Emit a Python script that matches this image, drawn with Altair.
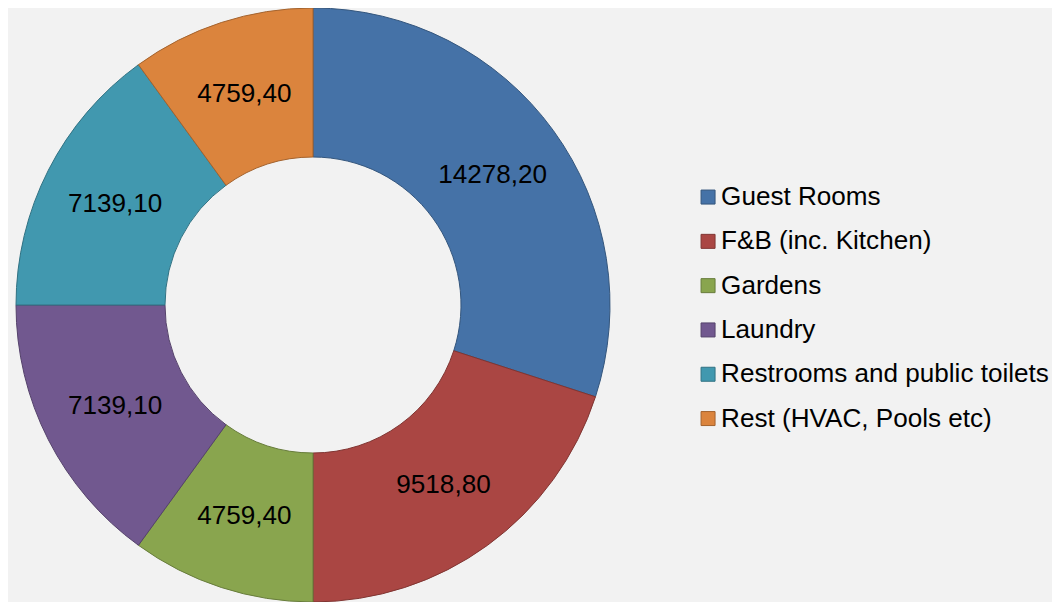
import altair as alt
import pandas as pd

categories = ["Guest Rooms", "F&B (inc. Kitchen)", "Gardens", "Laundry",
              "Restrooms and public toilets", "Rest (HVAC, Pools etc)"]
values = [14278.20, 9518.80, 4759.40, 7139.10, 7139.10, 4759.40]
fills = ["#4572A7", "#AA4643", "#89A54E", "#71588F", "#4198AF", "#DB843D"]
strokes = ["#34567D", "#803532", "#677C3B", "#55426B", "#317283", "#A4632E"]

df = pd.DataFrame({"category": categories, "value": values,
                   "idx": list(range(len(categories)))})

base = alt.Chart(df).encode(
    theta=alt.Theta("value:Q", stack=True),
    order=alt.Order("idx:Q", sort="ascending"),
    x=alt.value(305),
    y=alt.value(297),
)

arcs = base.mark_arc(radius=297, radius2=148, strokeWidth=1).encode(
    color=alt.Color(
        "category:N",
        scale=alt.Scale(domain=categories, range=fills),
        sort=categories,
        legend=alt.Legend(
            title=None, orient="none", legendX=687, legendY=176,
            symbolType="square", symbolSize=196, symbolStrokeWidth=1,
            symbolStrokeColor="#555555",
            labelFontSize=26.1, labelFont="Liberation Sans", labelColor="#000000",
            labelOffset=0, rowPadding=17.3, labelLimit=500, padding=0,
        ),
    ),
    stroke=alt.Stroke(
        "category:N",
        scale=alt.Scale(domain=categories, range=strokes),
        sort=categories,
        legend=None,
    ),
)

labels = base.transform_calculate(
    label="replace(format(datum.value, '.2f'), '.', ',')"
).mark_text(radius=222, fontSize=26.1, font="Liberation Sans", color="#000000",
            align="center", baseline="middle").encode(text="label:N")

chart = (arcs + labels).properties(
    width=1044, height=594, background="#f2f2f2", padding=0,
    autosize=alt.AutoSizeParams(type="none"),
).configure_view(stroke=None)

chart.save("out.html", embed_options={"renderer": "svg", "actions": False})
